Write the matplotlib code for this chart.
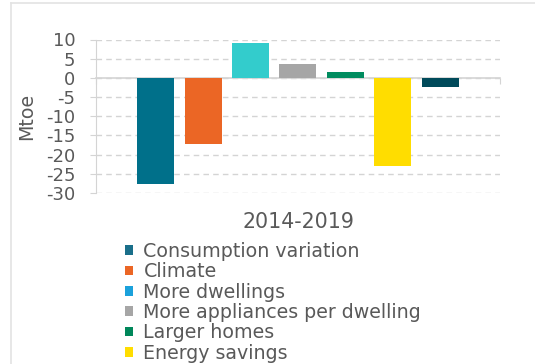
import matplotlib
matplotlib.use("Agg")
import matplotlib.pyplot as plt
from matplotlib.patches import Patch
from matplotlib.lines import Line2D

plt.rcParams['font.family'] = ['DejaVu Sans']
plt.rcParams['axes.unicode_minus'] = False

categories = ["Consumption variation", "Climate", "More dwellings",
              "More appliances per dwelling", "Larger homes", "Energy savings", "Other"]
values = [-27.7, -17.2, 9.1, 3.7, 1.5, -23.0, -2.3]
bar_colors = ["#00708A", "#EB6625", "#33CCCC", "#A6A6A6", "#008C5F", "#FFDD00", "#004A5A"]
legend_colors = ["#1A6F8A", "#EB6625", "#1BA1DB", "#A6A6A6", "#00875A", "#FFDD00"]
period = "2014-2019"
yticks = [10, 5, 0, -5, -10, -15, -20, -25, -30]

W, H = 535, 364
fig = plt.figure(figsize=(W / 100, H / 100), dpi=100)
text_col = "#595959"
grid_col = "#D4D4D4"

ax = fig.add_axes([96 / W, 1 - 193 / H, 404 / W, (193 - 39.5) / H])
x = list(range(len(values)))
ax.bar(x, values, width=0.78, color=bar_colors, zorder=3)
ax.set_xlim(-1.256, 7.258)
ax.set_ylim(-30, 10)
ax.set_yticks(yticks)
ax.set_yticklabels([str(v) for v in yticks])
ax.set_axisbelow(True)
ax.yaxis.grid(True, linestyle=(0, (4, 3)), color=grid_col, lw=1)
for s in ["top", "right"]:
    ax.spines[s].set_visible(False)
ax.spines["left"].set_color(grid_col)
ax.spines["bottom"].set_position(("data", 0))
ax.spines["bottom"].set_color(grid_col)
ax.spines["bottom"].set_linewidth(1.2)
ax.set_xticks([-1.256, 7.258])
ax.set_xticklabels(["", ""])
ax.tick_params(axis="x", direction="out", length=4, color=grid_col)
ax.tick_params(axis="y", direction="out", length=4, color=grid_col,
               labelcolor=text_col, labelsize=13, pad=11)

fig.text(298 / W, 1 - 222 / H, period, ha="center", va="center",
         fontsize=14.8, color=text_col)
fig.text(27 / W, 1 - 116 / H, "Mtoe", rotation=90, ha="center", va="center",
         fontsize=13.7, color=text_col)

handles = [Patch(facecolor=c, edgecolor="none") for c in legend_colors]
fig.legend(handles, categories[:6], loc="upper left",
           bbox_to_anchor=(125 / W, 1 - 242 / H), frameon=False,
           fontsize=13.7, labelcolor=text_col, handlelength=0.42,
           handleheight=0.42, handletextpad=0.55, labelspacing=0.07,
           borderpad=0, borderaxespad=0)

frame_col = "#E3E3E3"
fig.add_artist(Line2D([10.5 / W, 10.5 / W], [0, 1 - 2.5 / H],
                      transform=fig.transFigure, color=frame_col, lw=1.2))
fig.add_artist(Line2D([10.5 / W, 1], [1 - 2.5 / H, 1 - 2.5 / H],
                      transform=fig.transFigure, color=frame_col, lw=1.2))

fig.savefig("out.png", dpi=100)
